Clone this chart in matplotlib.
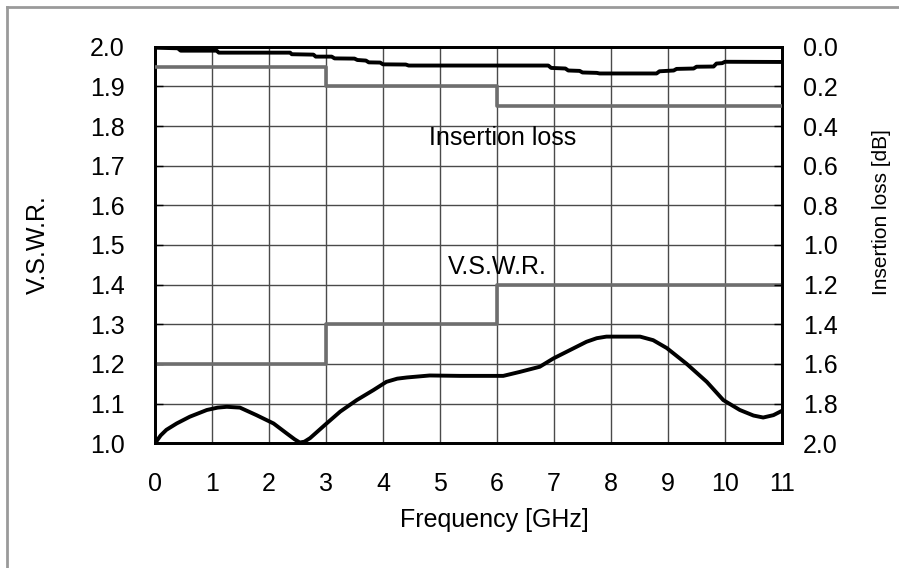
import matplotlib
matplotlib.use("Agg")
import matplotlib.pyplot as plt
from matplotlib.lines import Line2D
import numpy as np

plt.rcParams['font.family'] = ['Liberation Sans', 'Noto Sans CJK JP', 'DejaVu Sans']

# ---- data ----
band_edges = [0, 3, 6, 11]
vswr_spec = [1.2, 1.3, 1.4]
il_spec = [0.1, 0.2, 0.3]

vswr_freq = [0.0, 0.1, 0.2, 0.38, 0.61, 0.91, 1.1, 1.26, 1.49, 1.78, 2.08, 2.31, 2.45, 2.54,
             2.62, 2.72, 3.01, 3.25, 3.54, 3.83, 4.06, 4.25, 4.42, 4.82, 5.35, 6.11, 6.4,
             6.75, 6.99, 7.28, 7.57, 7.75, 7.92, 8.51, 8.74, 8.98, 9.33, 9.68, 9.97,
             10.26, 10.5, 10.67, 10.85, 11.0]
vswr_meas = [1.0, 1.02, 1.034, 1.05, 1.067, 1.084, 1.09, 1.092, 1.09, 1.071, 1.05, 1.025,
             1.01, 1.002, 1.004, 1.013, 1.05, 1.08, 1.109, 1.134, 1.155, 1.163, 1.166,
             1.171, 1.17, 1.17, 1.18, 1.193, 1.214, 1.235, 1.256, 1.265, 1.269, 1.269,
             1.26, 1.24, 1.2, 1.155, 1.109, 1.084, 1.07, 1.065, 1.071, 1.082]

il_freq = [0.0, 0.4, 0.45, 1.08, 1.12, 2.37, 2.4, 2.78, 2.82, 3.1, 3.15, 3.5, 3.55,
           3.7, 3.75, 3.95, 4.0, 4.4, 4.45, 6.9, 6.95, 7.2, 7.25, 7.45, 7.5, 7.75,
           7.8, 8.8, 8.85, 9.1, 9.15, 9.45, 9.5, 9.8, 9.85, 9.95, 10.0, 11.0]
il_meas = [0.005, 0.008, 0.02, 0.02, 0.03, 0.03, 0.038, 0.04, 0.05, 0.05, 0.059, 0.06,
           0.067, 0.07, 0.079, 0.08, 0.089, 0.09, 0.095, 0.095, 0.107, 0.11, 0.12,
           0.122, 0.13, 0.132, 0.135, 0.135, 0.124, 0.12, 0.112, 0.11, 0.101, 0.1,
           0.085, 0.083, 0.076, 0.077]

x_ticks = list(range(0, 12))
vswr_ticks = [1.0, 1.1, 1.2, 1.3, 1.4, 1.5, 1.6, 1.7, 1.8, 1.9, 2.0]
il_ticks = [0.0, 0.2, 0.4, 0.6, 0.8, 1.0, 1.2, 1.4, 1.6, 1.8, 2.0]

# ---- figure ----
fig = plt.figure(figsize=(8.99, 5.68), dpi=100)
ax = fig.add_axes([155/899, 1-443.3/568, (782-155)/899, (443.3-46.7)/568])
ax2 = ax.twinx()

grid_c = '#4a4a4a'
for x in x_ticks[1:-1]:
    ax.axvline(x, color=grid_c, lw=1.0, zorder=1)
for y in vswr_ticks[1:-1]:
    ax.axhline(y, color=grid_c, lw=1.0, zorder=1)

spec_c = '#6e6e6e'
ax.plot(band_edges, vswr_spec + [vswr_spec[-1]], drawstyle='steps-post',
        color=spec_c, lw=2.6, zorder=3)
ax2.plot(band_edges, il_spec + [il_spec[-1]], drawstyle='steps-post',
         color=spec_c, lw=2.6, zorder=3)

ax.plot(vswr_freq, vswr_meas, color='black', lw=2.8, zorder=4, solid_joinstyle='round')
ax2.plot(il_freq, il_meas, color='black', lw=2.8, zorder=4, solid_joinstyle='round')

ax.set_xlim(0, 11)
ax.set_ylim(1.0, 2.0)
ax2.set_ylim(2.0, 0.0)

fs = 18
ax.set_xticks(x_ticks)
ax.set_xticklabels([str(v) for v in x_ticks], fontsize=fs)
ax.set_yticks(vswr_ticks)
ax.set_yticklabels([f"{v:.1f}" for v in vswr_ticks], fontsize=fs)
ax2.set_yticks(il_ticks)
ax2.set_yticklabels([f"{v:.1f}" for v in il_ticks], fontsize=fs)

ax.tick_params(axis='x', direction='in', length=0, pad=21)
ax.tick_params(axis='y', direction='in', length=6, width=1, pad=22)
ax2.tick_params(axis='y', direction='in', length=6, width=1, pad=15)

for a in (ax, ax2):
    for s in a.spines.values():
        s.set_linewidth(2.0)
        s.set_color('black')

ax.set_xlabel('Frequency [GHz]', fontsize=fs)
ax.xaxis.set_label_coords((494 - 155) / 627, -(520 - 443.3) / 396.6)
ax.xaxis.label.set_verticalalignment('center')
ax.set_ylabel('V.S.W.R.', fontsize=fs)
ax.yaxis.set_label_coords((38 - 155) / 627, 0.5)
ax.yaxis.label.set_verticalalignment('center')

ax2.set_ylabel('Insertion loss [dB]', fontsize=15, rotation=90)
ax2.yaxis.set_label_coords((881 - 155) / 627, (443.3 - 212) / 396.6)
ax2.yaxis.label.set_verticalalignment('center')

ax.text(6.1, 1.77, 'Insertion loss', fontsize=fs, ha='center', va='center', zorder=5)
ax.text(6.0, 1.445, 'V.S.W.R.', fontsize=fs, ha='center', va='center', zorder=5)

# figure border (left and top)
fig.add_artist(Line2D([7/899, 7/899], [0, 1-7/568], transform=fig.transFigure,
                      color='#9a9a9a', lw=2))
fig.add_artist(Line2D([7/899, 1], [1-7/568, 1-7/568], transform=fig.transFigure,
                      color='#9a9a9a', lw=2))

fig.savefig('out.png', dpi=100)
